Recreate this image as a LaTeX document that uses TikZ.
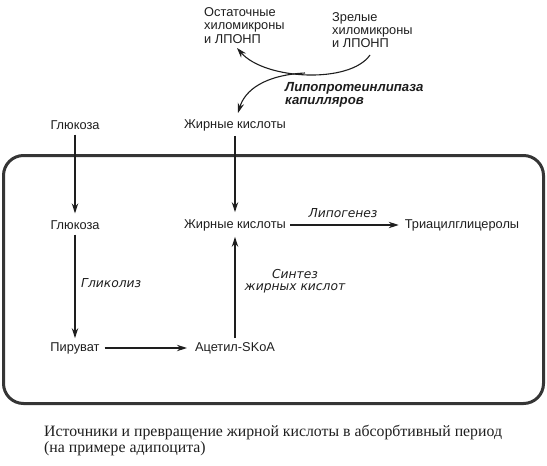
\documentclass[tikz,border=0pt]{standalone}
\usepackage{fontspec}
\setmainfont{Liberation Sans}
\newfontfamily\capfont{Liberation Serif}
\newfontfamily\itfont{DejaVu Sans}[ItalicFont={DejaVu Sans Oblique}]
\usetikzlibrary{arrows.meta}
\definecolor{ink}{HTML}{1E1E1E}
\begin{document}
\begin{tikzpicture}[x=1pt,y=-1pt,
  lbl/.style={text=ink,font=\fontsize{12.8}{13.4}\selectfont,inner sep=0pt,align=left},
  proc/.style={text=ink,font=\itfont\itshape\fontsize{12.3}{12}\selectfont,inner sep=0pt,align=center},
  enz/.style={text=ink,font=\bfseries\itshape\fontsize{13.2}{12.5}\selectfont,inner sep=0pt,align=left},
  arr/.style={draw=ink,line width=1.1pt,-{Stealth[length=10pt,width=6.5pt]}},
  cell/.style={draw=ink!90,line width=3pt,rounded corners=20pt}]
\useasboundingbox (0,0) rectangle (547,466);
% top
\node[lbl,anchor=west] (rem) at (204,25.5) {Остаточные\\хиломикроны\\и ЛПОНП};
\node[lbl,anchor=west] (mat) at (332,30) {Зрелые\\хиломикроны\\и ЛПОНП};
\node[enz,anchor=west] (lpl) at (285,95) {Липопротеинлипаза\\капилляров};
\node[lbl] (glc0) at (75,125) {Глюкоза};
\node[lbl] (fa0) at (235,125) {Жирные кислоты};
% cell
\node[cell,minimum width=540pt,minimum height=248pt,anchor=north west] (cellbox) at (2,154) {};
\node[lbl] (glc1) at (75,225) {Глюкоза};
\node[lbl] (fa1) at (235,225) {Жирные кислоты};
\node[lbl] (tag) at (462,225) {Триацилглицеролы};
\node[lbl] (pyr) at (75,348) {Пируват};
\node[lbl] (acoa) at (235,348) {Ацетил-SKoA};
\node[proc,anchor=west] (glyc) at (81,283) {Гликолиз};
\node[proc] (lipog) at (343,213) {Липогенез};
\node[proc] (fas) at (295,281) {Синтез\\жирных кислот};
% caption
\node[text=ink,font=\capfont\fontsize{15.8}{13.2}\selectfont,inner sep=0pt,align=left,anchor=west] (cap) at (44,440.5) {Источники и превращение жирной кислоты в абсорбтивный период\\(на примере адипоцита)};
% connectors
\coordinate (mstart) at (370,55);
\coordinate (mend) at (237,48);
\coordinate (branch) at (305,73);
\coordinate (fa0in) at (238,113);
\draw[arr] (mstart) .. controls (350,84) and (265,80) .. (mend);
\draw[arr] (branch) .. controls (265,75) and (245,90) .. (fa0in);
\draw[arr] ([yshift=-5pt]glc0.south) -- ([yshift=7pt]glc1.north);
\draw[arr] ([yshift=-5pt]fa0.south) -- ([yshift=7pt]fa1.north);
\draw[arr] ([xshift=4pt]fa1.east) -- ([xshift=-6pt]tag.west);
\draw[arr] ([yshift=-5pt]glc1.south) -- ([yshift=4pt]pyr.north);
\draw[arr] ([xshift=5pt]pyr.east) -- ([xshift=-8pt]acoa.west);
\draw[arr] ([yshift=4pt]acoa.north) -- ([yshift=-6pt]fa1.south);
\end{tikzpicture}
\end{document}
